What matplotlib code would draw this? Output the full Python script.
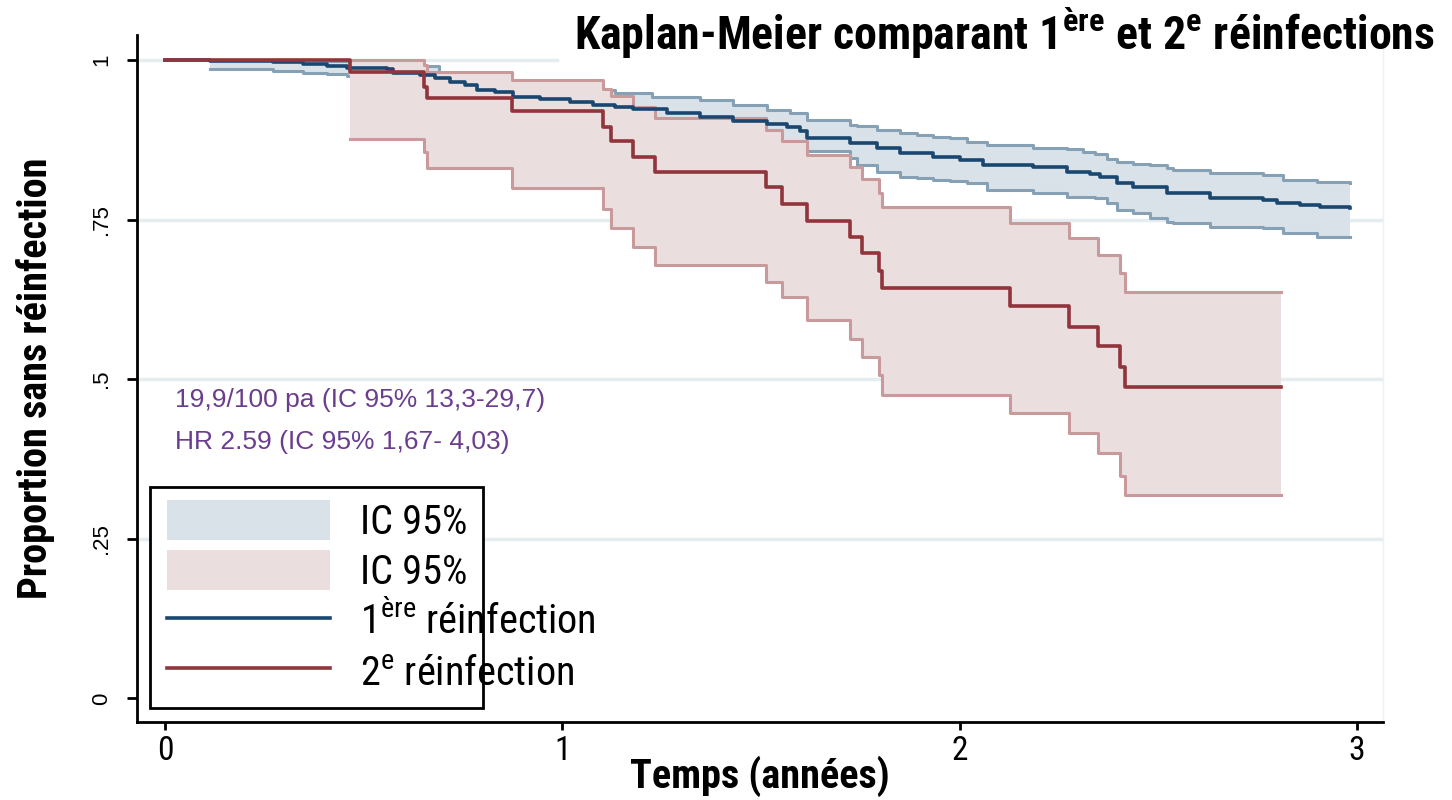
import matplotlib
matplotlib.use("Agg")
import matplotlib.pyplot as plt
from matplotlib import font_manager as fm
from matplotlib.patches import Patch, Rectangle
from matplotlib.lines import Line2D

# ---------------- data ----------------
# 1ère réinfection : Kaplan-Meier estimate
t1 = [0.0, 0.113, 0.272, 0.347, 0.408, 0.458, 0.559, 0.574, 0.642, 0.680, 0.717, 0.755,
      0.785, 0.831, 0.876, 0.944, 1.019, 1.077, 1.133, 1.178, 1.264, 1.347, 1.430, 1.515,
      1.566, 1.598, 1.616, 1.724, 1.792, 1.850, 1.933, 2.001, 2.059, 2.185, 2.270, 2.328,
      2.353, 2.396, 2.436, 2.522, 2.630, 2.764, 2.799, 2.857, 2.907, 2.983]
s1 = [1.000, 0.998, 0.996, 0.993, 0.990, 0.988, 0.986, 0.980, 0.977, 0.972, 0.966, 0.960,
      0.953, 0.949, 0.942, 0.938, 0.934, 0.930, 0.926, 0.923, 0.917, 0.911, 0.905, 0.900,
      0.895, 0.888, 0.878, 0.870, 0.862, 0.854, 0.848, 0.843, 0.835, 0.832, 0.825, 0.822,
      0.817, 0.807, 0.801, 0.791, 0.784, 0.781, 0.776, 0.773, 0.769, 0.768]

# 1ère réinfection : 95% CI
t1_ci = [0.113, 0.272, 0.347, 0.408, 0.458, 0.560, 0.650, 0.690, 0.750, 0.850, 0.950, 1.050,
         1.133, 1.226, 1.347, 1.430, 1.515, 1.573, 1.616, 1.724, 1.742, 1.792, 1.850, 1.893,
         1.933, 1.976, 2.018, 2.069, 2.185, 2.270, 2.311, 2.340, 2.370, 2.396, 2.436, 2.479,
         2.522, 2.537, 2.630, 2.764, 2.814, 2.900, 2.983]
hi1 = [1.000, 1.000, 1.000, 0.999, 0.998, 0.995, 0.990, 0.978, 0.975, 0.966, 0.960, 0.953,
       0.948, 0.942, 0.937, 0.929, 0.922, 0.917, 0.906, 0.898, 0.896, 0.890, 0.886, 0.882,
       0.880, 0.877, 0.872, 0.867, 0.862, 0.860, 0.856, 0.852, 0.845, 0.840, 0.837, 0.835,
       0.830, 0.827, 0.823, 0.820, 0.812, 0.809, 0.808]
lo1 = [0.985, 0.983, 0.980, 0.978, 0.975, 0.965, 0.955, 0.950, 0.945, 0.930, 0.920, 0.910,
       0.900, 0.893, 0.886, 0.878, 0.870, 0.866, 0.857, 0.846, 0.835, 0.824, 0.817, 0.815,
       0.812, 0.810, 0.807, 0.796, 0.791, 0.786, 0.785, 0.784, 0.776, 0.765, 0.760, 0.752,
       0.746, 0.744, 0.738, 0.737, 0.729, 0.723, 0.722]

# 2e réinfection : Kaplan-Meier estimate
t2 = [0.0, 0.465, 0.651, 0.660, 0.873, 1.102, 1.123, 1.178, 1.233, 1.513, 1.553, 1.616,
      1.724, 1.754, 1.797, 1.805, 2.127, 2.275, 2.348, 2.404, 2.416, 2.809]
s2 = [1.000, 0.981, 0.957, 0.941, 0.920, 0.895, 0.873, 0.848, 0.824, 0.801, 0.774, 0.747,
      0.722, 0.697, 0.670, 0.643, 0.614, 0.582, 0.552, 0.519, 0.488, 0.488]

# 2e réinfection : 95% CI
t2_ci = [0.465, 0.651, 0.660, 0.873, 1.102, 1.123, 1.178, 1.233, 1.513, 1.553, 1.616,
         1.724, 1.754, 1.797, 1.805, 2.127, 2.275, 2.348, 2.404, 2.416, 2.809]
hi2 = [1.000, 0.992, 0.981, 0.968, 0.955, 0.943, 0.926, 0.909, 0.891, 0.873, 0.851,
       0.832, 0.813, 0.791, 0.770, 0.745, 0.721, 0.694, 0.666, 0.637, 0.637]
lo2 = [0.876, 0.856, 0.831, 0.799, 0.766, 0.737, 0.707, 0.679, 0.652, 0.628, 0.592,
       0.563, 0.535, 0.507, 0.475, 0.447, 0.416, 0.384, 0.348, 0.318, 0.318]

x_ticks = [0, 1, 2, 3]
y_ticks = [0, 0.25, 0.5, 0.75, 1]
y_ticklabels = ["0", ".25", ".5", ".75", "1"]
legend_labels = ["IC 95%", "IC 95%", "1$^{\\mathregular{ère}}$ réinfection",
                 "2$^{\\mathregular{e}}$ réinfection"]
title = "Kaplan-Meier comparant 1$^{\\mathregular{ère}}$ et 2$^{\\mathregular{e}}$ réinfections"
note1 = "19,9/100 pa (IC 95% 13,3-29,7)"
note2 = "HR 2.59 (IC 95% 1,67- 4,03)"

# ---------------- fonts ----------------
names = {f.name for f in fm.fontManager.ttflist}
NARROW = "Liberation Sans"
for cand in ["Liberation Sans Narrow", "Arial Narrow", "Roboto Condensed", "Archivo Narrow"]:
    if cand in names:
        NARROW = cand
        break
REG = "Liberation Sans"
plt.rcParams['font.family'] = [NARROW, 'DejaVu Sans']

# ---------------- colours ----------------
c_blue = "#1a476f"
c_blue_ci = "#86a1b6"
c_blue_fill = "#d9e2e8"
c_red = "#90353b"
c_red_ci = "#c99a9c"
c_red_fill = "#ebdede"
c_grid = "#e6edf1"
c_note = "#6a3d8f"

# ---------------- figure ----------------
W, H = 1452, 800
fig = plt.figure(figsize=(W / 100, H / 100), dpi=100)
ax = fig.add_axes([137 / W, 1 - 722 / H, (1383 - 137) / W, (722 - 35) / H])
ax.set_xlim(-0.0705, 3.066)
ax.set_ylim(-0.0368, 1.039)

# grid
for yv in y_ticks[1:4]:
    ax.axhline(yv, color=c_grid, lw=2.5, zorder=0)
ax.axhline(1.0, xmin=0, xmax=(557 - 137) / (1383 - 137), color=c_grid, lw=2.5, zorder=0)

# bands (blue under red)
ax.fill_between(t1_ci, lo1, hi1, step='post', color=c_blue_fill, lw=0, zorder=1)
ax.step(t1_ci, hi1, where='post', color=c_blue_ci, lw=2.2, zorder=1.5)
ax.step(t1_ci, lo1, where='post', color=c_blue_ci, lw=2.2, zorder=1.5)
ax.fill_between(t2_ci, lo2, hi2, step='post', color=c_red_fill, lw=0, zorder=2)
ax.step(t2_ci, hi2, where='post', color=c_red_ci, lw=2.2, zorder=2.5)
ax.step(t2_ci, lo2, where='post', color=c_red_ci, lw=2.2, zorder=2.5)
# estimates
ax.step(t1, s1, where='post', color=c_blue, lw=2.6, zorder=3)
ax.step(t2, s2, where='post', color=c_red, lw=2.6, zorder=3.5)

# spines & ticks
ax.spines['top'].set_visible(False)
ax.spines['right'].set_color('#eef2f4')
ax.spines['right'].set_linewidth(1)
ax.spines['left'].set_linewidth(2)
ax.spines['bottom'].set_linewidth(2)
ax.set_xticks(x_ticks)
ax.set_xticklabels([str(v) for v in x_ticks])
ax.set_yticks(y_ticks)
ax.set_yticklabels(y_ticklabels, rotation=90, va='center', family=REG)
ax.tick_params(axis='x', length=6, width=2, labelsize=24, pad=3)
ax.tick_params(axis='y', length=7, width=2, labelsize=16, pad=11)

ax.set_xlabel("Temps (années)", fontsize=29, fontweight='bold', va='top')
ax.xaxis.set_label_coords((760 - 137) / (1383 - 137), (722 - 756) / (722 - 35))
ax.set_ylabel("Proportion sans réinfection", fontsize=29, fontweight='bold', labelpad=26)

fig.text(1435 / W, 1 - 32 / H, title, ha='right', va='center', fontsize=33,
         fontweight='bold')

fig.text(175 / W, 1 - 400 / H, note1, color=c_note, fontsize=19, family=REG, va='center')
fig.text(175 / W, 1 - 442 / H, note2, color=c_note, fontsize=19, family=REG, va='center')

# legend box (text overflows the frame in the reference)
box = Rectangle((150 / W, 1 - 708 / H), (483 - 150) / W, (708 - 487) / H,
                transform=fig.transFigure, facecolor='white', edgecolor='black', lw=2,
                zorder=5)
fig.add_artist(box)
handles = [Patch(facecolor=c_blue_fill, edgecolor='none'),
           Patch(facecolor=c_red_fill, edgecolor='none'),
           Line2D([], [], color=c_blue, lw=2.6),
           Line2D([], [], color=c_red, lw=2.6)]
leg = fig.legend(handles, legend_labels, loc='upper left',
                 bbox_to_anchor=(167 / W, 1 - 500 / H), bbox_transform=fig.transFigure,
                 frameon=False, fontsize=29, handlelength=4.05, handleheight=1.146,
                 handletextpad=0.74, labelspacing=0.22, borderpad=0, borderaxespad=0)
leg.set_zorder(6)

fig.savefig("out.png", dpi=100)
